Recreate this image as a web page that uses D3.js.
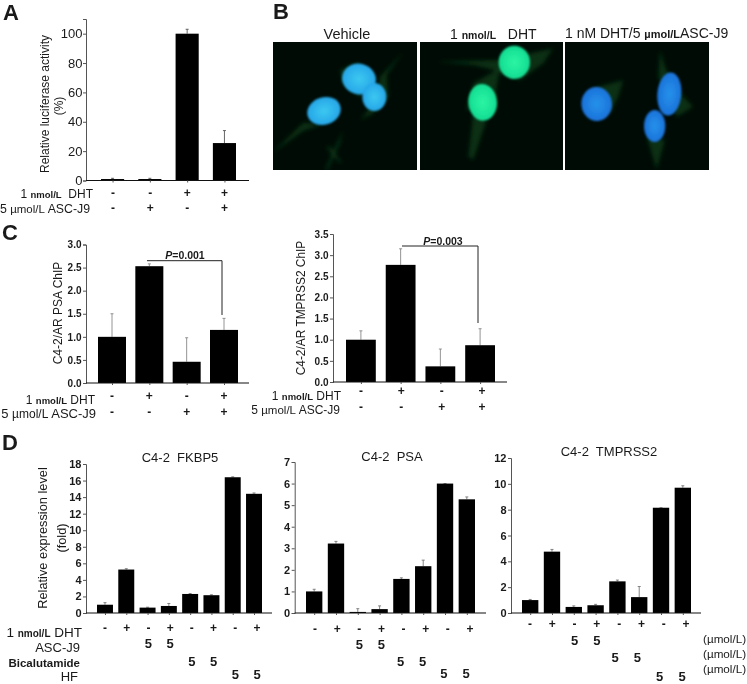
<!DOCTYPE html>
<html><head><meta charset="utf-8">
<script src="https://cdn.jsdelivr.net/npm/d3@7"></script>
<style>
html,body{margin:0;padding:0;background:#fff}
svg{display:block;opacity:.999}
text{font-family:"Liberation Sans",Arial,sans-serif;fill:#1a1a1a}
</style></head><body>
<svg id="c" width="747" height="684"></svg>
<script>
// ---- data ----
const aValues=[1,1,100,25.5], aTops=[1.5,1.5,103,34], aTicks=[0,20,40,60,80,100];
const aDHT=["-","-","+","+"], aASC=["-","+","-","+"];
const c1Values=[1,2.53,0.46,1.15], c1Tops=[1.5,2.58,0.98,1.4], c1Ticks=[0,.5,1,1.5,2,2.5,3];
const c2Values=[1,2.77,0.37,0.87], c2Tops=[1.21,3.15,0.78,1.26], c2Ticks=[0,.5,1,1.5,2,2.5,3,3.5];
const cDHT=["-","+","-","+"], cASC=["-","-","+","+"];
const d1Values=[1,5.25,0.65,0.85,2.3,2.15,16.4,14.4], d1Tops=[1.25,5.35,0.7,1.15,2.35,2.2,16.45,14.5];
const d1Ticks=[0,2,4,6,8,10,12,14,16,18];
const d2Values=[1,3.22,0.05,0.18,1.58,2.17,6,5.27], d2Tops=[1.1,3.32,0.2,0.33,1.63,2.45,6,5.38];
const d2Ticks=[0,1,2,3,4,5,6,7];
const d3Values=[1,4.75,0.47,0.6,2.45,1.23,8.15,9.7], d3Tops=[1.05,4.92,0.55,0.67,2.55,2.05,8.15,9.85];
const d3Ticks=[0,2,4,6,8,10,12];
const dDHT=["-","+","-","+","-","+","-","+"];
const dASC=["","","5","5","","","",""];
const dBic=["","","","","5","5","",""];
const dHF=["","","","","","","5","5"];

const svg=d3.select("#c");
function txt(x,y,s,o={}){
  const t=svg.append("text").attr("x",x).attr("y",y).attr("font-size",o.size||12)
    .attr("text-anchor",o.anchor||"start").attr("font-weight",o.weight||"normal");
  if(o.rot!=null)t.attr("transform",`rotate(${o.rot},${x},${y})`);
  [].concat(s).forEach(p=>{
    if(typeof p==="string")t.append("tspan").style("white-space","pre").text(p);
    else t.append("tspan").style("white-space","pre").attr("font-size",p.size).attr("font-weight",p.weight||"normal").attr("font-style",p.style||"normal").text(p.t);
  });
  return t;
}
const nmol={t:"nmol/L",size:9.5,weight:"bold"}, nmolD={t:"nmol/L",size:10,weight:"bold"}, umol={t:"µmol/L",size:11.5,weight:"normal"};

function barChart(o){
  const ids=d3.range(o.values.length);
  const y=d3.scaleLinear().domain(o.domain).range([o.y0,o.yTop]);
  const x=d3.scaleBand().domain(ids).range([o.xBandStart,o.xBandEnd]).paddingInner(o.padIn).paddingOuter(0);
  const g=svg.append("g");
  g.selectAll("line.e").data(ids).join("line")
    .attr("x1",i=>x(i)+x.bandwidth()/2).attr("x2",i=>x(i)+x.bandwidth()/2)
    .attr("y1",i=>y(o.values[i])).attr("y2",i=>y(o.tops[i]))
    .attr("stroke",o.errColor).attr("stroke-width",.9);
  g.selectAll("line.c").data(ids).join("line")
    .attr("x1",i=>x(i)+x.bandwidth()/2-1.5).attr("x2",i=>x(i)+x.bandwidth()/2+1.5)
    .attr("y1",i=>y(o.tops[i])).attr("y2",i=>y(o.tops[i]))
    .attr("stroke",o.errColor).attr("stroke-width",.9);
  g.selectAll("rect").data(ids).join("rect")
    .attr("x",i=>x(i)).attr("width",x.bandwidth())
    .attr("y",i=>y(o.values[i])).attr("height",i=>y(0)-y(o.values[i]))
    .attr("fill","#000");
  const ya=g.append("g").attr("transform",`translate(${o.x0},0)`)
    .call(d3.axisLeft(y).tickValues(o.ticks).tickSize(3).tickPadding(o.tickPad==null?1.5:o.tickPad).tickFormat(o.fmt||d3.format("d")));
  ya.selectAll("text").attr("font-size",o.tickSize).attr("font-weight",o.tickWeight||"normal")
    .style("font-family",'"Liberation Sans",Arial,sans-serif').attr("fill","#111");
  ya.selectAll("line,path").attr("stroke","#555").attr("stroke-width",1);
  const xs=d3.scalePoint().domain(ids).range([o.xBandStart+x.bandwidth()/2,o.xBandEnd-x.bandwidth()/2]);
  const xa=g.append("g").attr("transform",`translate(0,${o.y0})`)
    .call(d3.axisBottom(xs).tickSize(2).tickFormat(""));
  xa.select("path").attr("d",`M${o.x0},0H${o.xEnd}`).attr("stroke","#111").attr("stroke-width",1.1);
  xa.selectAll("line").attr("stroke","#555");
  o.rows.forEach(r=>{
    const lx=d3.scalePoint().domain(ids).range(r.range||o.rowRange);
    svg.append("g").selectAll("text").data(ids.filter(i=>r.vals[i])).join("text")
      .attr("x",i=>lx(i)+(r.dx||0)).attr("y",r.y).attr("text-anchor","middle")
      .attr("font-size",r.size||12).attr("font-weight",r.weight||"bold").text(i=>r.vals[i]);
  });
  return {x,y};
}

// ---- Panel A ----
barChart({values:aValues,tops:aTops,domain:[0,110],y0:180.5,yTop:19,x0:86,xEnd:249,
  xBandStart:101,xBandEnd:236,padIn:.38,errColor:"#555",ticks:aTicks,tickSize:13,tickPad:0.5,
  rowRange:[113,224.5],rows:[{vals:aDHT,y:197},{vals:aASC,y:212}]});
txt(3,19.5,"A",{size:22,weight:"bold"});
txt(49,104,"Relative luciferase activity",{size:12,anchor:"middle",rot:-90});
txt(63,106,"(%)",{size:12,anchor:"middle",rot:-90});
txt(93,198,["1 ",nmol,"  DHT"],{size:12,anchor:"end"});
txt(90,213,["5 ",umol," ASC-J9"],{size:12.3,anchor:"end"});

// ---- Panel B (micrographs) ----
txt(273,18.5,"B",{size:22,weight:"bold"});
txt(347,39,"Vehicle",{size:14.5,anchor:"middle"});
txt(450,39,["1 ",{t:"nmol/L",size:10.5,weight:"bold"},"   DHT"],{size:14});
txt(565,38,["1 nM DHT/5 ",{t:"µmol/L",size:11,weight:"bold"},"ASC-J9"],{size:14});
const defs=svg.append("defs");
defs.append("filter").attr("id","b1").attr("x","-40%").attr("y","-40%").attr("width","180%").attr("height","180%")
  .append("feGaussianBlur").attr("stdDeviation",1.2);
defs.append("filter").attr("id","b2").attr("x","-40%").attr("y","-40%").attr("width","180%").attr("height","180%")
  .append("feGaussianBlur").attr("stdDeviation",2.2);
function grad(id,c0,c1){
  const g=defs.append("radialGradient").attr("id",id);
  g.append("stop").attr("offset","0%").attr("stop-color",c0);
  g.append("stop").attr("offset","100%").attr("stop-color",c1);
}
grad("cy","#3cc8f0","#26a6e8");
grad("gr","#2cf5a4","#12dc92");
grad("bl","#2492ea","#1c72da");
const zx=v=>260+v/3, zy=v=>v/3;
const panels=[
 {x:273,w:144,clip:"p1",
  cyto:["M40,455 L130,368 L190,372 L130,392 L50,450Z","M240,210 L290,190 L340,225 L300,290 L250,250Z",
        "M430,155 L380,225 L385,290 L340,340 L300,360 L350,300 L360,230Z","M250,390 L225,440 L195,510 L203,510 L240,430Z","M205,435 L245,485 L240,490 L200,445Z"],
  nuc:[[192,333,51,41,-18,"cy"],[297,237,51,46,15,"cy"],[343,291,36,42,0,"cy"]]},
 {x:420,w:143,clip:"p2",
  cyto:["M530,185 L720,180 L880,145 L850,190 L780,240 L700,210 L640,195Z","M720,205 L640,250 L620,330 L700,320Z","M640,340 L625,470 L640,480 L680,360Z"],
  nuc:[[763,187,47,50,0,"gr"],[668,307,43,55,-5,"gr"]]},
 {x:565,w:144,clip:"p3",
  cyto:["M1090,240 L1000,265 L1050,340 L1075,290Z","M1200,150 L1195,230 L1250,350 L1300,320 L1250,270 L1215,200Z","M1160,410 L1190,510 L1215,420Z"],
  nuc:[[1010,312,46,51,-5,"bl"],[1228,282,36,65,5,"bl"],[1184,378,32,48,0,"bl"]]}
];
panels.forEach(p=>{
  defs.append("clipPath").attr("id",p.clip).append("rect").attr("x",p.x).attr("y",42).attr("width",p.w).attr("height",128);
  const g=svg.append("g").attr("clip-path",`url(#${p.clip})`);
  g.append("rect").attr("x",p.x).attr("y",42).attr("width",p.w).attr("height",128).attr("fill","#000b05");
  const pts=s=>s.replace(/(\d+),(\d+)/g,(m,a,b)=>`${zx(+a).toFixed(1)},${zy(+b).toFixed(1)}`);
  g.append("g").attr("filter","url(#b2)").selectAll("path").data(p.cyto).join("path")
    .attr("d",d=>pts(d)).attr("fill","#134f22").attr("opacity",.55);
  g.append("g").attr("filter","url(#b1)").selectAll("ellipse").data(p.nuc).join("ellipse")
    .attr("cx",0).attr("cy",0)
    .attr("rx",d=>d[2]/3).attr("ry",d=>d[3]/3)
    .attr("transform",d=>`translate(${zx(d[0])},${zy(d[1])}) rotate(${d[4]})`)
    .attr("fill",d=>`url(#${d[5]})`);
});

// ---- Panel C ----
txt(2,239.5,"C",{size:22,weight:"bold"});
const f1=d3.format(".1f");
barChart({values:c1Values,tops:c1Tops,domain:[0,3],y0:383,yTop:244.5,x0:86,xEnd:249,
  xBandStart:98,xBandEnd:238,padIn:.25,errColor:"#888",ticks:c1Ticks,tickSize:10,tickWeight:"bold",fmt:f1,
  rowRange:[112,224],rows:[{vals:cDHT,y:400},{vals:cASC,y:416}]});
txt(62,313,"C4-2/AR PSA ChIP",{size:12,anchor:"middle",rot:-90});
txt(95,404,["1 ",nmol," DHT"],{size:12,anchor:"end"});
txt(96,418,["5 ",{t:"µmol/L",size:12,weight:"normal"}," ASC-J9"],{size:13,anchor:"end"});
svg.append("path").attr("d","M147,260.7H222V315").attr("fill","none").attr("stroke","#222").attr("stroke-width",1);
txt(185,259,[{t:"P",style:"italic",weight:"bold"},"=0.001"],{size:10.5,weight:"bold",anchor:"middle"});

barChart({values:c2Values,tops:c2Tops,domain:[0,3.5],y0:382,yTop:234,x0:333,xEnd:507,
  xBandStart:346,xBandEnd:495,padIn:.25,errColor:"#888",ticks:c2Ticks,tickSize:10,tickWeight:"bold",fmt:f1,
  rowRange:[361,482],rows:[{vals:cDHT,y:395},{vals:cASC,y:411}]});
txt(305,308,"C4-2/AR TMPRSS2 ChIP",{size:11.9,anchor:"middle",rot:-90});
txt(341,400,["1 ",nmol," DHT"],{size:12,anchor:"end"});
txt(340,414,["5 ",umol," ASC-J9"],{size:12,anchor:"end"});
svg.append("path").attr("d","M402,246H478V323").attr("fill","none").attr("stroke","#222").attr("stroke-width",1);
txt(443,245,[{t:"P",style:"italic",weight:"bold"},"=0.003"],{size:10.5,weight:"bold",anchor:"middle"});

// ---- Panel D ----
txt(2,449.5,"D",{size:22,weight:"bold"});
barChart({values:d1Values,tops:d1Tops,domain:[0,18],y0:613,yTop:464,x0:86,xEnd:272,
  xBandStart:97,xBandEnd:262,padIn:.25,errColor:"#777",ticks:d1Ticks,tickSize:11,tickWeight:"bold",
  rowRange:[105,257],rows:[{vals:dDHT,y:632},{vals:dASC,y:648,size:13},{vals:dBic,y:666,size:13},{vals:dHF,y:679,size:13}]});
txt(180,462,"C4-2  FKBP5",{size:13,anchor:"middle"});
txt(47,538,"Relative expression level",{size:12.8,anchor:"middle",rot:-90});
txt(66,538,"(fold)",{size:12.8,anchor:"middle",rot:-90});
txt(82,637,["1 ",nmolD," DHT"],{size:13.5,anchor:"end"});
txt(80,652,"ASC-J9",{size:13,anchor:"end"});
txt(80,667,"Bicalutamide",{size:11.5,anchor:"end",weight:"bold"});
txt(78,681,"HF",{size:13,anchor:"end"});

barChart({values:d2Values,tops:d2Tops,domain:[0,7],y0:613,yTop:462,x0:294.7,xEnd:486,
  xBandStart:306,xBandEnd:475,padIn:.25,errColor:"#777",ticks:d2Ticks,tickSize:11,tickWeight:"bold",
  rowRange:[315,470],rows:[{vals:dDHT,y:633},{vals:dASC,y:649,size:13},{vals:dBic,y:666,dx:-3,size:13},{vals:dHF,y:678,dx:-4,size:13}]});
txt(392,461,"C4-2  PSA",{size:13,anchor:"middle"});

barChart({values:d3Values,tops:d3Tops,domain:[0,12],y0:613,yTop:458,x0:511,xEnd:701,
  xBandStart:522,xBandEnd:691,padIn:.25,errColor:"#777",ticks:d3Ticks,tickSize:11,tickWeight:"bold",
  rowRange:[530,686],rows:[{vals:dDHT,y:628},{vals:dASC,y:645,size:13},{vals:dBic,y:662,dx:-4,size:13},{vals:dHF,y:681,dx:-4,size:13}]});
txt(609,456,"C4-2  TMPRSS2",{size:13,anchor:"middle"});
txt(703,643,"(µmol/L)",{size:11.7});
txt(703,658,"(µmol/L)",{size:11.7});
txt(703,673,"(µmol/L)",{size:11.7});
</script>
</body></html>
